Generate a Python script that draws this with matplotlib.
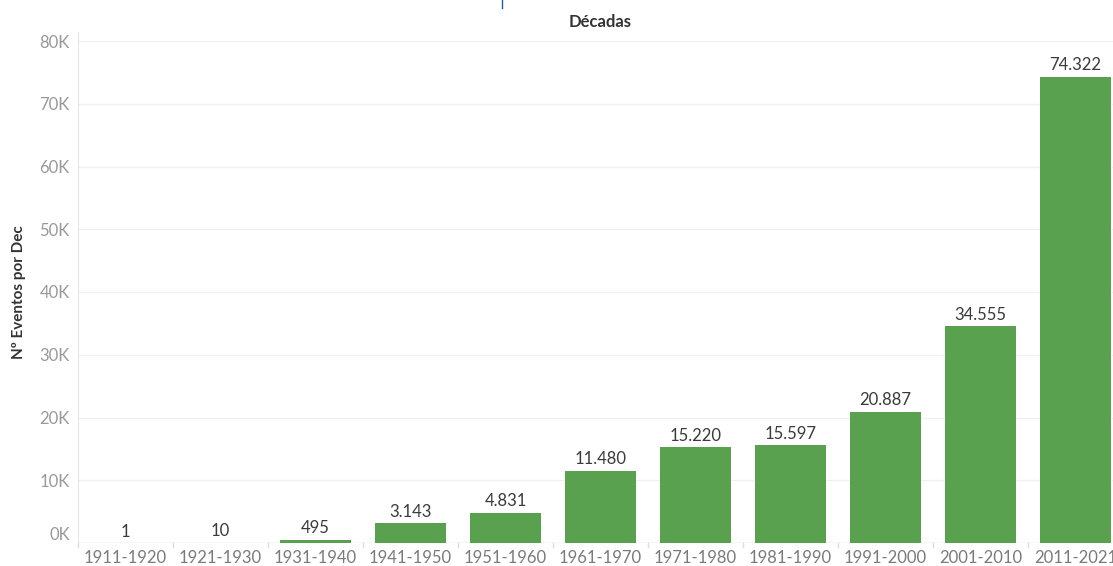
import matplotlib.pyplot as plt
import matplotlib.transforms as mtransforms

decadas = ["1911-1920", "1921-1930", "1931-1940", "1941-1950", "1951-1960",
           "1961-1970", "1971-1980", "1981-1990", "1991-2000", "2001-2010",
           "2011-2021"]
eventos = [1, 10, 495, 3143, 4831, 11480, 15220, 15597, 20887, 34555, 74322]
yticks = [0, 10000, 20000, 30000, 40000, 50000, 60000, 70000, 80000]
ytick_labels = ["0K", "10K", "20K", "30K", "40K", "50K", "60K", "70K", "80K"]

plt.rcParams['font.family'] = ['Lato', 'DejaVu Sans']

W, H = 1113, 566
fig = plt.figure(figsize=(W / 100, H / 100), dpi=100)
ax = fig.add_axes([78 / W, (H - 543) / H, (1123 - 78) / W, (543 - 41) / H])

x = range(len(decadas))
ax.bar(x, eventos, width=0.75, color='#59A14F', zorder=3)

def fmt(v):
    return f"{v:,}".replace(",", ".")

for xi, v in zip(x, eventos):
    ax.annotate(fmt(v), (xi, v), xytext=(0, 2.5), textcoords='offset points',
                ha='center', va='bottom', fontsize=12, color='#3a3a3a')

ax.set_xlim(-0.5, len(decadas) - 0.5)
ax.set_ylim(0, 80000)
ax.set_yticks(yticks)
ax.set_yticklabels(ytick_labels)
ax.set_xticks(list(x))
ax.set_xticklabels(decadas)
ax.tick_params(axis='x', length=0, pad=5, labelsize=12, labelcolor='#7a7a7a')
ax.tick_params(axis='y', length=0, pad=6, labelsize=12, labelcolor='#999999')

# lift the 0K label above the baseline, like the original
lbl0 = ax.get_yticklabels()[0]
lbl0.set_transform(lbl0.get_transform() +
                   mtransforms.ScaledTranslation(0, 7 / 72, fig.dpi_scale_trans))

# small separators between categories
for b in range(len(decadas)):
    ax.plot([b - 0.5, b - 0.5], [0, -0.008], color='#dddddd', lw=1,
            transform=ax.get_xaxis_transform(), clip_on=False)

ax.grid(axis='y', color='#f0f0f0', lw=1, zorder=0)
for s in ['top', 'right', 'bottom']:
    ax.spines[s].set_visible(False)
ax.spines['left'].set_color('#e6e6e6')
ax.spines['left'].set_bounds(0, 81500)
ax.axhline(0, color='#e6e6e6', lw=1, zorder=2)

ax.set_ylabel("Nº Eventos por Dec", fontsize=11, fontweight='bold',
              color='#333333', labelpad=10)
fig.text(600 / W, 1 - 22 / H, "Décadas", ha='center', va='center',
         fontsize=12, fontweight='bold', color='#333333')
# cut-off mark at the top of the original view
fig.add_artist(plt.Line2D([502 / W, 502 / W], [1, 1 - 8 / H], color='#1f5fa8', lw=1))

fig.savefig("out.png", dpi=100)
